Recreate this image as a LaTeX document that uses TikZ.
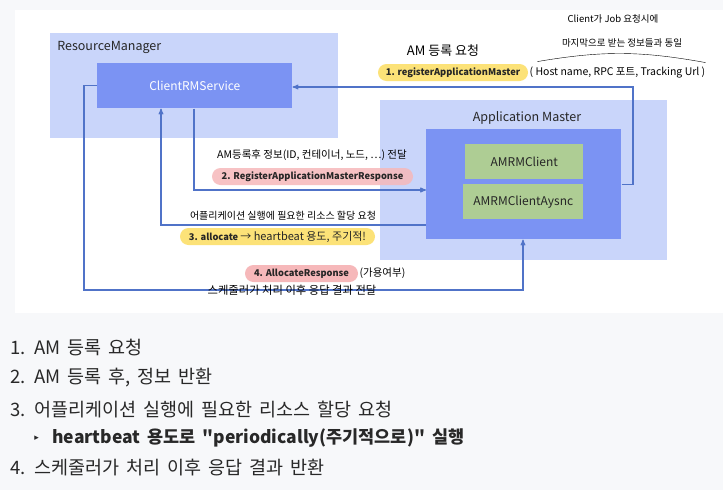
\documentclass[tikz,border=0pt]{standalone}
\usepackage{fontspec}
\setmainfont{Noto Sans CJK KR}[Ligatures=TeXOff]
\newfontfamily\handfont{Noto Sans CJK KR}[Ligatures=TeXOff]
\newfontfamily\symfont{DejaVu Sans}
\usepackage{tikz}
\usetikzlibrary{arrows,shapes}
\definecolor{pagebg}{RGB}{247,248,250}
\definecolor{lightbox}{RGB}{201,213,250}
\definecolor{midbox}{RGB}{123,147,243}
\definecolor{greenbox}{RGB}{174,205,148}
\definecolor{flowline}{RGB}{80,115,200}
\definecolor{yellowpill}{RGB}{252,226,120}
\definecolor{pinkpill}{RGB}{246,184,186}
\definecolor{listtext}{RGB}{40,40,40}
\newcommand\listspacing{\spaceskip=7pt plus 1pt\relax}

\begin{document}
\begin{tikzpicture}[x=1pt,y=-1pt,->,>=stealth',semithick]
\tikzstyle{groupbox}=[fill=lightbox,anchor=north west,inner sep=0pt]
\tikzstyle{servicebox}=[fill=midbox,anchor=north west,inner sep=0pt,text=white,font=\fontsize{12}{14}\selectfont]
\tikzstyle{clientbox}=[fill=greenbox,anchor=north west,inner sep=0pt,text=black!85,font=\fontsize{12}{14}\selectfont]
\tikzstyle{grouptitle}=[inner sep=0pt,text=black!85,font=\fontsize{12.5}{14}\selectfont]
\tikzstyle{flow}=[draw=flowline,line width=1.1pt,-stealth']
\tikzstyle{pill}=[rounded corners=8.5pt,minimum height=17pt,inner sep=0pt,text=black!85,font=\bfseries\fontsize{9.3}{10}\selectfont]
\tikzstyle{hand}=[inner sep=0pt,text=black,font=\handfont\fontsize{9.5}{11}\selectfont]
\tikzstyle{listitem}=[anchor=west,inner sep=0pt,text=listtext,font=\fontsize{18.5}{20}\selectfont\listspacing]
\useasboundingbox (0,0) rectangle (723,490);
\fill[pagebg] (0,0) rectangle (723,490);
\fill[white] (15,10) rectangle (723,313);

% boxes
\node[groupbox,minimum width=288pt,minimum height=105pt] (rm) at (50,33) {};
\node[grouptitle,anchor=west] (rmtitle) at (57,47) {ResourceManager};
\node[servicebox,minimum width=195pt,minimum height=45pt] (crm) at (97,63) {ClientRMService};
\node[groupbox,minimum width=287pt,minimum height=160pt] (amgroup) at (380,100) {};
\node[grouptitle] (amtitle) at (527,118) {Application Master};
\node[servicebox,minimum width=195pt,minimum height=110pt] (am) at (426,129) {};
\node[clientbox,minimum width=118pt,minimum height=35pt] (amrm) at (465,144) {AMRMClient};
\node[clientbox,minimum width=120pt,minimum height=35pt] (amrmasync) at (463,184) {AMRMClientAysnc};

% bends
\coordinate (c1) at (633,87);
\coordinate (c2) at (194,190);
\coordinate (c3) at (161,225);
\coordinate (c4) at (84,290);
\coordinate (c5) at (523,290);

\draw[flow] (am.east) -| (c1) -- (crm.east |- c1);
\draw[flow] (crm.south -| c2) |- (am.west |- c2);
\draw[flow] (am.west |- c3) -| (crm.south -| c3);
\draw[flow] (crm.west) -| (c4) -- (c5) -- (am.south -| c5);

% labels
\node[hand,font=\handfont\fontsize{13}{14}\selectfont] (note1) at (443,51) {AM 등록 요청};
\node[pill,fill=yellowpill,minimum width=150pt] (req1) at (453,72.5) {1. registerApplicationMaster};
\node[hand,anchor=west,font=\handfont\fontsize{10.5}{12}\selectfont] (hostinfo) at ([xshift=1pt]req1.east) {( Host name, RPC 포트, Tracking Url )};
\draw[-,thin] ([xshift=8pt,yshift=5pt]hostinfo.north west) to[bend left=10] ([yshift=4pt]hostinfo.north east);
\node[hand] (same1) at (613,19) {Client가 Job 요청시에};
\node[hand] (same2) at (622,43) {마지막으로 받는 정보들과 동일};

\node[hand,font=\handfont\fontsize{10.5}{12}\selectfont] (note2) at (312,155) {AM등록후 정보(ID, 컨테이너, 노드, …) 전달};
\node[pill,fill=pinkpill,fill opacity=0.85,text opacity=1,minimum width=201pt] (resp2) at (312.5,176.5) {2. RegisterApplicationMasterResponse};

\node[hand,font=\handfont\fontsize{10}{11}\selectfont] (note3) at (283,216) {어플리케이션 실행에 필요한 리소스 할당 요청};
\node[pill,fill=yellowpill,minimum width=195pt] (req3) at (277.5,236.5) {3. allocate {\handfont\mdseries\fontsize{11}{12}\selectfont → heartbeat 용도, 주기적!}};

\node[pill,fill=pinkpill,minimum width=113pt] (resp4) at (301.5,273.5) {4. AllocateResponse};
\node[hand,anchor=west,font=\handfont\fontsize{10.5}{12}\selectfont] (avail) at ([xshift=1pt]resp4.east) {(가용여부)};
\node[hand,font=\handfont\fontsize{11.3}{12}\selectfont] (note4) at (292,290) {스케줄러가 처리 이후 응답 결과 전달};

% list
\node[listitem] (item1) at (10,348) {1. AM 등록 요청};
\node[listitem] (item2) at (10,378) {2. AM 등록 후, 정보 반환};
\node[listitem] (item3) at (10,409) {3. 어플리케이션 실행에 필요한 리소스 할당 요청};
\node[listitem,font=\symfont\fontsize{9}{10}\selectfont] (bullet) at (34,438) {▸};
\node[listitem,font=\bfseries\fontsize{17.5}{20}\selectfont\listspacing] (item3a) at (52,438) {heartbeat 용도로 "periodically(주기적으로)" 실행};
\node[listitem] (item4) at (10,468) {4. 스케줄러가 처리 이후 응답 결과 반환};
\end{tikzpicture}
\end{document}
